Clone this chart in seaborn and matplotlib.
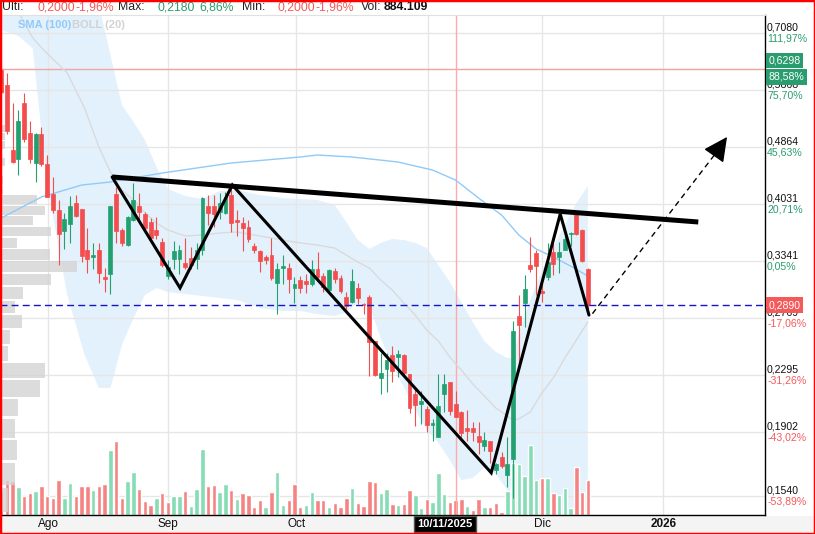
import numpy as np
import pandas as pd
import matplotlib
matplotlib.use("Agg")
import matplotlib.pyplot as plt
import matplotlib.transforms as mtransforms
from matplotlib.patches import Rectangle
import seaborn as sns

# -----------------------------
# DATA (one entry per trading day)
# -----------------------------
open_ = [0.627, 0.597, 0.482, 0.467, 0.562, 0.509, 0.462, 0.508, 0.460, 0.417,
         0.395, 0.369, 0.378, 0.405, 0.396, 0.346, 0.339, 0.346, 0.317, 0.320,
         0.417, 0.370, 0.352, 0.383, 0.401, 0.390, 0.380, 0.370, 0.356, 0.318,
         0.336, 0.336, 0.332, 0.337, 0.336, 0.346, 0.401, 0.401, 0.393, 0.392,
         0.416, 0.383, 0.379, 0.374, 0.351, 0.345, 0.339, 0.341, 0.311, 0.327,
         0.327, 0.306, 0.314, 0.313, 0.310, 0.326, 0.318, 0.304, 0.323, 0.316,
         0.297, 0.292, 0.306, 0.2905, 0.297, 0.257, 0.227, 0.234, 0.245, 0.244,
         0.245, 0.230, 0.2155, 0.2085, 0.205, 0.1945, 0.187, 0.2155, 0.2245, 0.209,
         0.2035, 0.193, 0.193, 0.188, 0.1815, 0.185, 0.168, 0.175, 0.165, 0.174,
         0.279, 0.291, 0.330, 0.343, 0.3025, 0.317, 0.344, 0.339, 0.347, 0.365,
         0.392, 0.370, 0.326]
high = [0.631, 0.621, 0.562, 0.549, 0.581, 0.530, 0.510, 0.520, 0.474, 0.440,
        0.408, 0.392, 0.414, 0.416, 0.397, 0.372, 0.355, 0.355, 0.327, 0.401,
        0.427, 0.373, 0.387, 0.432, 0.418, 0.393, 0.385, 0.386, 0.361, 0.335,
        0.357, 0.352, 0.361, 0.350, 0.355, 0.412, 0.416, 0.416, 0.418, 0.420,
        0.426, 0.395, 0.386, 0.383, 0.355, 0.347, 0.341, 0.361, 0.332, 0.341,
        0.332, 0.317, 0.318, 0.320, 0.335, 0.344, 0.321, 0.325, 0.327, 0.319,
        0.302, 0.325, 0.311, 0.291, 0.299, 0.257, 0.2465, 0.2465, 0.2525, 0.2495,
        0.246, 0.230, 0.221, 0.2175, 0.207, 0.1985, 0.2305, 0.230, 0.2245, 0.218,
        0.204, 0.2045, 0.197, 0.197, 0.190, 0.185, 0.172, 0.178, 0.187, 0.274,
        0.299, 0.319, 0.362, 0.346, 0.311, 0.355, 0.355, 0.356, 0.367, 0.368,
        0.393, 0.371, 0.327]
low = [0.581, 0.508, 0.462, 0.444, 0.495, 0.462, 0.433, 0.457, 0.412, 0.392,
       0.330, 0.348, 0.355, 0.386, 0.333, 0.321, 0.326, 0.311, 0.302, 0.300,
       0.355, 0.351, 0.351, 0.381, 0.381, 0.369, 0.360, 0.359, 0.328, 0.315,
       0.326, 0.320, 0.326, 0.326, 0.326, 0.341, 0.376, 0.374, 0.384, 0.390,
       0.368, 0.363, 0.345, 0.356, 0.343, 0.322, 0.331, 0.314, 0.281, 0.310,
       0.301, 0.291, 0.301, 0.301, 0.308, 0.312, 0.302, 0.302, 0.311, 0.301,
       0.285, 0.291, 0.290, 0.281, 0.2285, 0.2285, 0.2155, 0.217, 0.2245, 0.228,
       0.2295, 0.2025, 0.194, 0.1955, 0.190, 0.1845, 0.187, 0.2035, 0.201, 0.200,
       0.187, 0.185, 0.185, 0.177, 0.179, 0.172, 0.166, 0.169, 0.159, 0.153,
       0.2355, 0.269, 0.322, 0.299, 0.292, 0.314, 0.319, 0.321, 0.346, 0.351,
       0.364, 0.333, 0.285]
close = [0.583, 0.513, 0.463, 0.530, 0.499, 0.467, 0.508, 0.460, 0.413, 0.395,
         0.365, 0.384, 0.401, 0.388, 0.340, 0.336, 0.341, 0.321, 0.315, 0.400,
         0.369, 0.355, 0.386, 0.408, 0.393, 0.373, 0.361, 0.364, 0.330, 0.328,
         0.345, 0.346, 0.328, 0.330, 0.346, 0.411, 0.392, 0.390, 0.405, 0.413,
         0.379, 0.380, 0.373, 0.359, 0.347, 0.334, 0.335, 0.316, 0.325, 0.329,
         0.315, 0.310, 0.306, 0.310, 0.326, 0.317, 0.307, 0.324, 0.315, 0.303,
         0.288, 0.313, 0.296, 0.289, 0.256, 0.2295, 0.231, 0.241, 0.233, 0.246,
         0.2315, 0.206, 0.208, 0.211, 0.195, 0.196, 0.207, 0.223, 0.204, 0.200,
         0.1895, 0.191, 0.1905, 0.184, 0.1855, 0.179, 0.171, 0.170, 0.171, 0.265,
         0.271, 0.305, 0.326, 0.329, 0.301, 0.333, 0.331, 0.344, 0.359, 0.367,
         0.365, 0.334, 0.289]
# volume in thousands of shares
volume = [1470, 2097, 2058, 1705, 1117, 1352, 1450, 1744, 1117, 1039,
          2097, 1039, 1921, 1117, 1744, 1744, 1509, 1744, 1862, 3920,
          4449, 1039, 2038, 2568, 1568, 862, 627, 1039, 1333, 804,
          1156, 1156, 1450, 568, 1568, 3979, 1744, 1803, 1392, 1862,
          1509, 980, 1333, 1215, 510, 921, 451, 1392, 2568, 627,
          921, 1862, 451, 627, 1392, 921, 921, 510, 745, 451,
          1039, 1627, 745, 568, 2038, 1980, 1333, 1568, 686, 627,
          686, 1509, 1215, 392, 980, 804, 2509, 1274, 804, 884,
          980, 568, 274, 980, 510, 451, 745, 157, 1450, 3136,
          3077, 2332, 4214, 2097, 2215, 2215, 1333, 1215, 1627, 392,
          2881, 1392, 2097]

# SMA(100), sampled along the curve
sma_idx = [0, 7, 14, 19, 28, 40, 52, 55, 61, 69, 75, 79, 83, 87, 90, 93, 96, 99, 102]
sma_val = [0.3850, 0.4126, 0.4292, 0.4335, 0.4465, 0.4615, 0.4707, 0.4738, 0.4707, 0.4630,
           0.4509, 0.4363, 0.4112, 0.3888, 0.3641, 0.3477, 0.3387, 0.3287, 0.3181]

# BOLL(20) bands, sampled along the curves
boll_idx = [0, 3, 5.5, 7, 8.5, 11.5, 14.5, 17, 19, 21, 23, 25, 27, 29, 32, 35, 38, 41, 45, 49,
            52, 55, 58, 60, 62, 64, 66, 68, 70, 72, 74, 76, 78, 80, 82, 84, 86, 88, 89, 90,
            92, 94, 96, 98, 100, 102]
boll_up = [1.027, 0.9776, 0.9153, 0.8945, 0.8712, 0.8430, 0.8211, 0.7764, 0.6585, 0.5586,
           0.5282, 0.4978, 0.4555, 0.4236, 0.4140, 0.4099, 0.4208, 0.4222, 0.4153, 0.4112,
           0.4099, 0.4085, 0.4019, 0.3800, 0.3581, 0.3477, 0.3547, 0.3593, 0.3581, 0.3547,
           0.3488, 0.3299, 0.3119, 0.2920, 0.2734, 0.2568, 0.2477, 0.2428, 0.2428, 0.2637,
           0.2940, 0.3234, 0.3500, 0.3762, 0.4045, 0.4278]
boll_mid = [0.829, 0.7587, 0.6965, 0.6750, 0.6560, 0.6206, 0.5531, 0.4863, 0.4480, 0.4222,
            0.4085, 0.3915, 0.3787, 0.3701, 0.3629, 0.3641, 0.3665, 0.3677, 0.3629, 0.3581,
            0.3547, 0.3522, 0.3488, 0.3408, 0.3331, 0.3266, 0.3139, 0.3037, 0.2910, 0.2797,
            0.2662, 0.2568, 0.2436, 0.2334, 0.2229, 0.2142, 0.2060, 0.2006, 0.1980, 0.1987,
            0.2033, 0.2164, 0.2274, 0.2428, 0.2576, 0.2734]
boll_low = [0.7150, 0.7010, 0.6730, 0.5127, 0.4085, 0.2988, 0.2453, 0.2200, 0.2200, 0.2535,
            0.2769, 0.2988, 0.3058, 0.3017, 0.2998, 0.2978, 0.2959, 0.2940, 0.2862, 0.2835,
            0.2835, 0.2806, 0.2788, 0.2825, 0.2910, 0.2890, 0.2594, 0.2373, 0.2207, 0.2046,
            0.1916, 0.1837, 0.1735, 0.1625, 0.1636, 0.1691, 0.1657, 0.1572, 0.1401, 0.1248,
            0.1094, 0.0992, 0.0928, 0.0869, 0.0814, 0.0788]

# volume profile (price bin bottom, relative volume)
profile_bin = 0.0135
profile_lo = [0.1320, 0.1455, 0.1590, 0.1725, 0.1860, 0.1995, 0.2130, 0.2265, 0.2400, 0.2535,
              0.2670, 0.2805, 0.2940, 0.3075, 0.3210, 0.3345, 0.3480, 0.3615, 0.3750, 0.3885,
              0.4020, 0.4155, 0.4290, 0.4560, 0.4830, 0.4965, 0.5100, 0.5775, 0.5910, 0.6045]
profile_vol = [6, 8, 15, 17, 15, 18, 40, 45, 8, 10, 22, 15, 23, 51, 77, 50, 17, 51, 33, 45,
               37, 3, 3, 5, 5, 5, 5, 4, 4, 3]

# right axis
price_ticks = [0.7080, 0.5868, 0.4864, 0.4031, 0.3341, 0.2769, 0.2295, 0.1902, 0.1540]
pct_labels = ["111,97%", "75,70%", "45,63%", "20,71%", "0,05%",
              "-17,06%", "-31,26%", "-43,02%", "-53,89%"]

# bottom axis
month_pos = [8.15, 29.0, 51.3, 74.2, 94.1, 115.1]
month_labels = ["Ago", "Sep", "Oct", "Nov", "Dic", "2026"]
cross_idx = 79
cross_label = "10/11/2025"

# drawn pattern (trading-day index, price)
pattern_idx = [19.3, 31.1, 40.2, 85.2, 97.2, 102.2]
pattern_px = [0.4407, 0.3058, 0.4292, 0.1664, 0.3901, 0.2797]
neck_idx = [19.3, 121.2]
neck_px = [0.4407, 0.3800]
proj_idx = [102.8, 124.0, 126.2]
proj_px = [0.2810, 0.4738, 0.5028]

last_price = 0.2890
ref_price = 0.6298
ref_pct = "88,58%"

header = [("Ulti:", 2, "#222222", "normal"), ("0,2000", 37, "red", "normal"),
          ("-1,96%", 75, "red", "normal"), ("Max:", 118, "#222222", "normal"),
          ("0,2180", 157, "green", "normal"), ("6,86%", 199, "green", "normal"),
          ("Min:", 242, "#222222", "normal"), ("0,2000", 277, "red", "normal"),
          ("-1,96%", 315, "red", "normal"), ("Vol:", 361, "#222222", "normal"),
          ("884.109", 384, "#111111", "bold")]

# -----------------------------
# STYLE
# -----------------------------
GREEN = "#22a06f"
RED = "#f34d4d"
VOL_GREEN = "#85dcb5"
VOL_RED = "#f68383"
TXT_GREEN = "#2a9d6f"
TXT_RED = "#f45a5a"

sns.set_style("white")
plt.rcParams["font.family"] = ["Liberation Sans", "DejaVu Sans"]

W, H = 815, 534
fig = plt.figure(figsize=(W / 100, H / 100), dpi=100, facecolor="white")
ax = fig.add_axes([0, 19 / H, 765 / W, 500 / H])
ax.set_yscale("log")
ax.set_axisbelow(True)

idx = np.arange(len(close))
o = np.array(open_)
c = np.array(close)
h = np.array(high)
l = np.array(low)

# bollinger fill
ax.fill_between(boll_idx, boll_low, boll_up, color="#e3f1fc", lw=0, zorder=0.2)

# volume bars (bottom 15% of the panel)
vol = np.array(volume, dtype=float)
vol_up = np.r_[False, c[1:] >= c[:-1]]
vcols = np.where(vol_up, VOL_GREEN, VOL_RED)
vol_tr = mtransforms.blended_transform_factory(ax.transData, ax.transAxes)
ax.bar(idx, vol / vol.max() * 0.148, bottom=0, width=0.78, color=vcols,
       transform=vol_tr, zorder=1)

# volume profile on the left
pv = np.array(profile_vol, dtype=float)
plo = np.array(profile_lo)
prof_tr = mtransforms.blended_transform_factory(ax.transAxes, ax.transData)
gap = profile_bin * 0.06
ax.barh(plo + gap, pv / pv.max() * (77 / 765), height=profile_bin - 2 * gap, left=0,
        align="edge", transform=prof_tr, color="#d4d4d4", alpha=0.8, lw=0, zorder=1.2)

# reference lines
ax.axhline(ref_price, color="#f4a3a3", lw=1, zorder=1.5)
ax.axvline(cross_idx, color="#ffaaaa", lw=1, zorder=1.5)

# moving averages
sma_df = pd.DataFrame({"idx": sma_idx, "val": sma_val})
mid_df = pd.DataFrame({"idx": boll_idx, "val": boll_mid})
sns.lineplot(data=sma_df, x="idx", y="val", ax=ax, color="#90caf9", lw=1, zorder=2)
sns.lineplot(data=mid_df, x="idx", y="val", ax=ax, color="#dadada", lw=1, zorder=2)

# candles
up = c >= o
cols = np.where(up, GREEN, RED)
ax.vlines(idx, l, h, colors=cols, lw=0.8, zorder=3)
body_lo = np.minimum(o, c)
body_hi = np.maximum(o, c)
ax.bar(idx, body_hi - body_lo, bottom=body_lo, width=0.68, color=cols,
       edgecolor=cols, linewidth=0.5, zorder=3.1)

# last price line
ax.axhline(last_price, color="#1515c8", lw=1, ls=(0, (5, 3)), zorder=4)

# drawn pattern
ax.plot(neck_idx, neck_px, color="black", lw=3.6, solid_capstyle="butt", zorder=5)
ax.plot(pattern_idx, pattern_px, color="black", lw=2.2, solid_joinstyle="miter", zorder=5)
ax.plot(proj_idx[:2], proj_px[:2], color="black", lw=1, ls=(0, (4, 3)), zorder=5)
ax.annotate("", xy=(proj_idx[2], proj_px[2]), xytext=(proj_idx[1], proj_px[1]),
            arrowprops=dict(arrowstyle="-|>,head_length=1.0,head_width=0.5",
                            color="black", lw=1, mutation_scale=15,
                            shrinkA=0, shrinkB=0), zorder=6)

# axes limits, grid, spines
ax.set_xlim(-0.2, 132.8)
ax.set_ylim(0.1448, 0.7513)
ax.set_yticks(price_ticks)
ax.minorticks_off()
ax.set_xticks(month_pos)
ax.grid(True, which="major", color="#e6e6e6", lw=1)
ax.tick_params(left=False, right=False, bottom=False, top=False,
               labelleft=False, labelbottom=False)
ax.set_xlabel("")
ax.set_ylabel("")
ax.spines["left"].set_visible(False)
ax.spines["top"].set_color("#e0e0e0")
ax.spines["right"].set_color("black")
ax.spines["bottom"].set_color("black")
for s in ("right", "bottom"):
    ax.spines[s].set_linewidth(1)

# right axis labels
for v, pct in zip(price_ticks, pct_labels):
    ax.annotate(f"{v:.4f}".replace(".", ","), xy=(1, v), xycoords=("axes fraction", "data"),
                xytext=(1.5, 0.3), textcoords="offset points", ha="left", va="bottom",
                fontsize=7.6, color="#111111", annotation_clip=False)
    ax.annotate(pct, xy=(1, v), xycoords=("axes fraction", "data"),
                xytext=(1.5, -0.3), textcoords="offset points", ha="left", va="top",
                fontsize=7.6, color=TXT_RED if pct.startswith("-") else TXT_GREEN,
                annotation_clip=False)

box_kw = dict(xycoords=("axes fraction", "data"), textcoords="offset points",
              ha="left", fontsize=7.6, color="white", annotation_clip=False, zorder=10)
ax.annotate(f"{ref_price:.4f}".replace(".", ","), xy=(1, ref_price), xytext=(2.5, 2.4),
            va="bottom", bbox=dict(boxstyle="square,pad=0.25", fc="#2a9d6f", ec="none"), **box_kw)
ax.annotate(ref_pct, xy=(1, ref_price), xytext=(2.5, -2.4), va="top",
            bbox=dict(boxstyle="square,pad=0.25", fc="#2a9d6f", ec="none"), **box_kw)
ax.annotate(f"{last_price:.4f}".replace(".", ","), xy=(1, last_price), xytext=(2.5, 0),
            va="center", bbox=dict(boxstyle="square,pad=0.25", fc="#f55a5a", ec="none"), **box_kw)

# bottom labels (the month under the crosshair date box is hidden)
lab_tr = mtransforms.blended_transform_factory(ax.transData, ax.transAxes)
for p, lab in zip(month_pos, month_labels):
    if abs(p - cross_idx) < 7:
        continue
    ax.text(p, -0.018, lab, transform=lab_tr, ha="center", va="center", fontsize=8.5,
            color="#111111", fontweight="bold" if lab == "2026" else "normal",
            family=["Liberation Sans Narrow", "Liberation Sans", "DejaVu Sans"],
            clip_on=False)
ax.text(cross_idx - 1.8, -0.018, cross_label, transform=lab_tr, ha="center", va="center",
        fontsize=8, color="white", fontweight="bold", clip_on=False, zorder=10,
        bbox=dict(boxstyle="square,pad=0.3", fc="black", ec="#555555", lw=1))

# header and legend
def fx(px):
    return px / W


def fy(py):
    return 1 - py / H


tcolor = {"red": TXT_RED, "green": TXT_GREEN}
for txt, x, col, wt in header:
    fig.text(fx(x), fy(7.5), txt, ha="left", va="center", fontsize=8.8,
             color=tcolor.get(col, col), fontweight=wt)
fig.text(fx(18), fy(24.5), "SMA (100)", ha="left", va="center", fontsize=8,
         color="#90caf9", fontweight="bold")
fig.text(fx(72), fy(24.5), "BOLL (20)", ha="left", va="center", fontsize=8,
         color="#d2d2d2", fontweight="bold")

# bottom strip and red frame
fig.add_artist(Rectangle((0, 0), 1, 18 / H, transform=fig.transFigure,
                         facecolor="#f4f4f4", edgecolor="none", zorder=-1))
fig.add_artist(Rectangle((0, 0), 1, 1, transform=fig.transFigure, fill=False,
                         edgecolor="#ff0000", linewidth=2.5, zorder=100))

fig.savefig("out.png", dpi=100)
